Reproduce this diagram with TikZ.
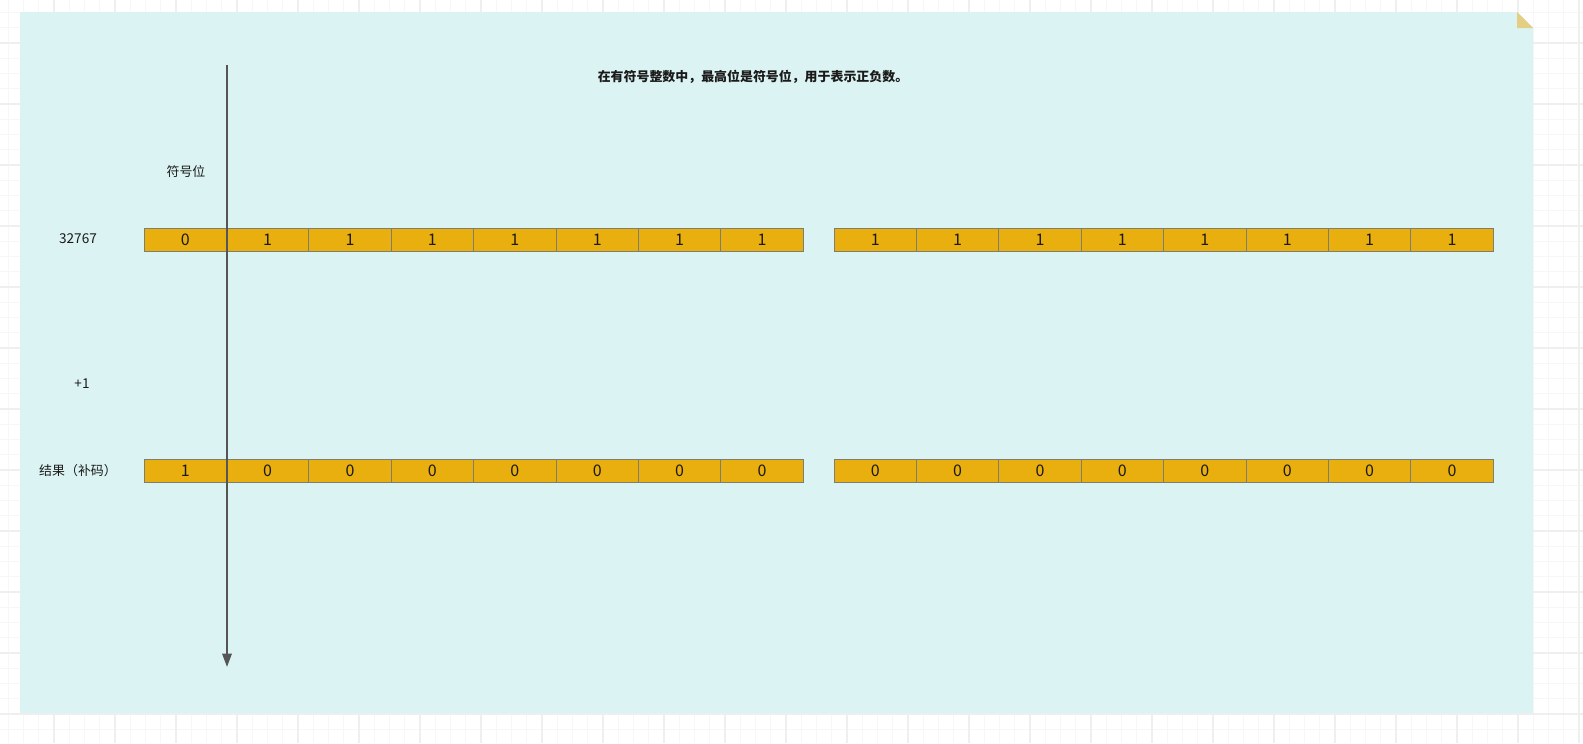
\documentclass[tikz,border=0pt]{standalone}
\usepackage{fontspec}
\setmainfont{Noto Sans CJK SC}
\usepackage{tikz}
\usetikzlibrary{arrows.meta}
\definecolor{notecyan}{RGB}{219,244,243}
\definecolor{notefold}{RGB}{227,206,130}
\definecolor{bitfill}{RGB}{233,175,14}
\definecolor{bitline}{RGB}{125,125,112}
\definecolor{signline}{RGB}{85,85,85}
\definecolor{gridminor}{RGB}{247,247,247}
\definecolor{gridmajor}{RGB}{239,239,239}
\definecolor{inkgray}{RGB}{26,26,26}

\begin{document}
\begin{tikzpicture}[
    x=0.75pt, y=-0.75pt,
    bit/.style={draw=bitline, fill=bitfill, line width=0.75pt, minimum width=61.8pt, minimum height=17.25pt, inner sep=0pt, text=inkgray, font=\fontsize{12}{14}\selectfont},
    rowtext/.style={inner sep=0pt, text=inkgray, font=\fontsize{9.7}{11}\selectfont},
    signarrow/.style={-{Triangle[length=10pt, width=7pt]}, line width=1.5pt, draw=signline}
]
    \useasboundingbox (0,0) rectangle (1583,743);

    % Grid paper
    \foreach \g in {0,...,103} \draw[gridminor, line width=0.75pt] ({8.25+15.25*\g},0) -- ++(0,743);
    \foreach \g in {0,...,48} \draw[gridminor, line width=0.75pt] (0,{12.5+15.25*\g}) -- ++(1583,0);
    \foreach \g in {0,...,25} \draw[gridmajor, line width=1pt] ({54+61*\g},0) -- ++(0,743);
    \foreach \g in {0,...,11} \draw[gridmajor, line width=1pt] (0,{43+61*\g}) -- ++(1583,0);

    % Note with folded corner
    \fill[notecyan] (20,12) -- (1517,12) -- (1533,28) -- (1533,713) -- (20,713) -- cycle;
    \fill[notefold] (1517,12) -- (1517,28) -- (1533,28) -- cycle;

    % Texts
    \node[rowtext, font=\fontsize{9.7}{11}\selectfont\bfseries] (title) at (753,77) {在有符号整数中，最高位是符号位，用于表示正负数。};
    \node[rowtext] (signlabel) at (186,172) {符号位};
    \node[rowtext, font=\fontsize{10.2}{12}\selectfont] (maxlabel) at (78,239) {32767};
    \node[rowtext, font=\fontsize{10.2}{12}\selectfont] (pluslabel) at (82,384) {+1};
    \node[rowtext] (reslabel) at (78,471) {结果（补码）};

    % Two rows of 16 bits
    \foreach \v [count=\i from 0] in {0,1,1,1,1,1,1,1,1,1,1,1,1,1,1,1} {
        \pgfmathsetmacro\cx{185.2+82.4*\i+(\i>7)*30.8}
        \node[bit] (max\i) at (\cx,239.5) {\v};
    }
    \foreach \v [count=\i from 0] in {1,0,0,0,0,0,0,0,0,0,0,0,0,0,0,0} {
        \pgfmathsetmacro\cx{185.2+82.4*\i+(\i>7)*30.8}
        \node[bit] (res\i) at (\cx,471) {\v};
    }

    % Sign bit marker
    \coordinate (signtop) at (227,65);
    \coordinate (signend) at (227,667);
    \draw[signarrow] (signtop) -- (signend);
\end{tikzpicture}
\end{document}
